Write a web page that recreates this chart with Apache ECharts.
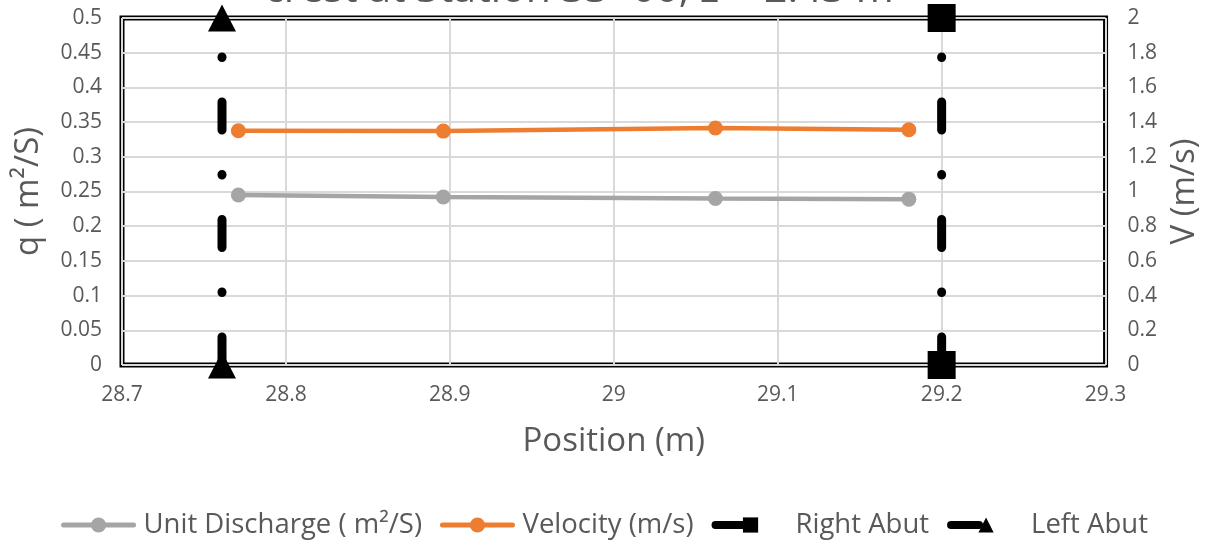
<!DOCTYPE html>
<html>
<head>
<meta charset="utf-8">
<script src="https://cdn.jsdelivr.net/npm/echarts@6/dist/echarts.min.js"></script>
<style>html,body{margin:0;padding:0;background:#fff;}#c{width:1209px;height:544px;}</style>
</head>
<body>
<div id="c"></div>
<script>
const titleText = "crest at Station 33+00, z = 2.43 m";
const positions = [28.771, 28.896, 29.062, 29.180];
const unitDischarge = [0.245, 0.242, 0.240, 0.239];
const velocity = [1.35, 1.348, 1.366, 1.356];
const rightAbutX = [29.2, 29.2];
const rightAbutY = [0, 0.5];
const leftAbutX = [28.761, 28.761];
const leftAbutY = [0, 0.5];
const seriesNames = ["Unit Discharge ( m\u00b2/S)", "Velocity (m/s)", "Right Abut", "Left Abut"];

const zip = (xs, ys) => xs.map((x, i) => [x, ys[i]]);
const fmt = v => String(+(+v).toFixed(3));
const FONT = "Open Sans";
const GREY = "#595959";

const chart = echarts.init(document.getElementById('c'), null, {renderer: 'canvas'});
const abutDash = [28, 44.5, 0.5, 44.5];
const legendLine = (w, dash) => ({width: w, type: dash || 'solid', cap: 'round'});
chart.setOption({
  animation: false,
  textStyle: {fontFamily: FONT},
  title: {
    text: titleText, left: 259, top: -35,
    textStyle: {fontFamily: FONT, fontSize: 41, fontWeight: 'normal', color: GREY}
  },
  grid: {left: 122, right: 103, top: 18, bottom: 179, show: true, borderColor: '#000', borderWidth: 5, backgroundColor: 'transparent'},
  legend: {
    bottom: 0, left: 'center', itemWidth: 70, itemHeight: 19, itemGap: 18,
    textStyle: {fontFamily: FONT, fontSize: 27.5, color: GREY, padding: [0, 0, 0, 5]},
    data: [
      {name: seriesNames[0], lineStyle: legendLine(5)},
      {name: seriesNames[1], lineStyle: legendLine(5)},
      {name: seriesNames[2], lineStyle: legendLine(8, [28, 200])},
      {name: seriesNames[3], lineStyle: legendLine(8, [28, 200])}
    ]
  },
  xAxis: {
    type: 'value', min: 28.7, max: 29.3, interval: 0.1,
    name: 'Position (m)', nameLocation: 'middle', nameGap: 60,
    nameTextStyle: {fontFamily: FONT, fontSize: 33, color: GREY},
    axisLine: {show: false}, axisTick: {show: false},
    axisLabel: {formatter: fmt, fontSize: 21, color: GREY, margin: 20, fontFamily: FONT},
    splitLine: {show: true, lineStyle: {color: '#d9d9d9', width: 2}}
  },
  yAxis: [{
    type: 'value', min: 0, max: 0.5, interval: 0.05,
    name: 'q ( m\u00b2/S)', nameLocation: 'middle', nameGap: 77,
    nameTextStyle: {fontFamily: FONT, fontSize: 33, color: GREY},
    axisLine: {show: false}, axisTick: {show: false},
    axisLabel: {formatter: fmt, fontSize: 21, color: GREY, margin: 20, fontFamily: FONT},
    splitLine: {show: true, lineStyle: {color: '#d9d9d9', width: 2}}
  }, {
    type: 'value', min: 0, max: 2, interval: 0.2,
    name: 'V (m/s)', nameLocation: 'middle', nameGap: 52,
    nameTextStyle: {fontFamily: FONT, fontSize: 33, color: GREY},
    axisLine: {show: false}, axisTick: {show: false},
    axisLabel: {formatter: fmt, fontSize: 21, color: GREY, margin: 22, fontFamily: FONT},
    splitLine: {show: false}
  }],
  series: [{
    name: seriesNames[0], type: 'line', yAxisIndex: 0,
    data: zip(positions, unitDischarge),
    symbol: 'circle', symbolSize: 15,
    lineStyle: {color: '#A5A5A5', width: 4.5},
    itemStyle: {color: '#A5A5A5'}
  }, {
    name: seriesNames[1], type: 'line', yAxisIndex: 1,
    data: zip(positions, velocity),
    symbol: 'circle', symbolSize: 15,
    lineStyle: {color: '#ED7D31', width: 4.5},
    itemStyle: {color: '#ED7D31'}
  }, {
    name: seriesNames[2], type: 'line', yAxisIndex: 0,
    data: zip(rightAbutX, rightAbutY),
    symbol: 'rect', symbolSize: 28,
    lineStyle: {color: '#000', width: 9, type: abutDash, cap: 'round'},
    itemStyle: {color: '#000'}
  }, {
    name: seriesNames[3], type: 'line', yAxisIndex: 0,
    data: zip(leftAbutX, leftAbutY),
    symbol: 'triangle', symbolSize: [28, 27],
    lineStyle: {color: '#000', width: 9, type: abutDash, cap: 'round'},
    itemStyle: {color: '#000'}
  }]
});
</script>
</body>
</html>
